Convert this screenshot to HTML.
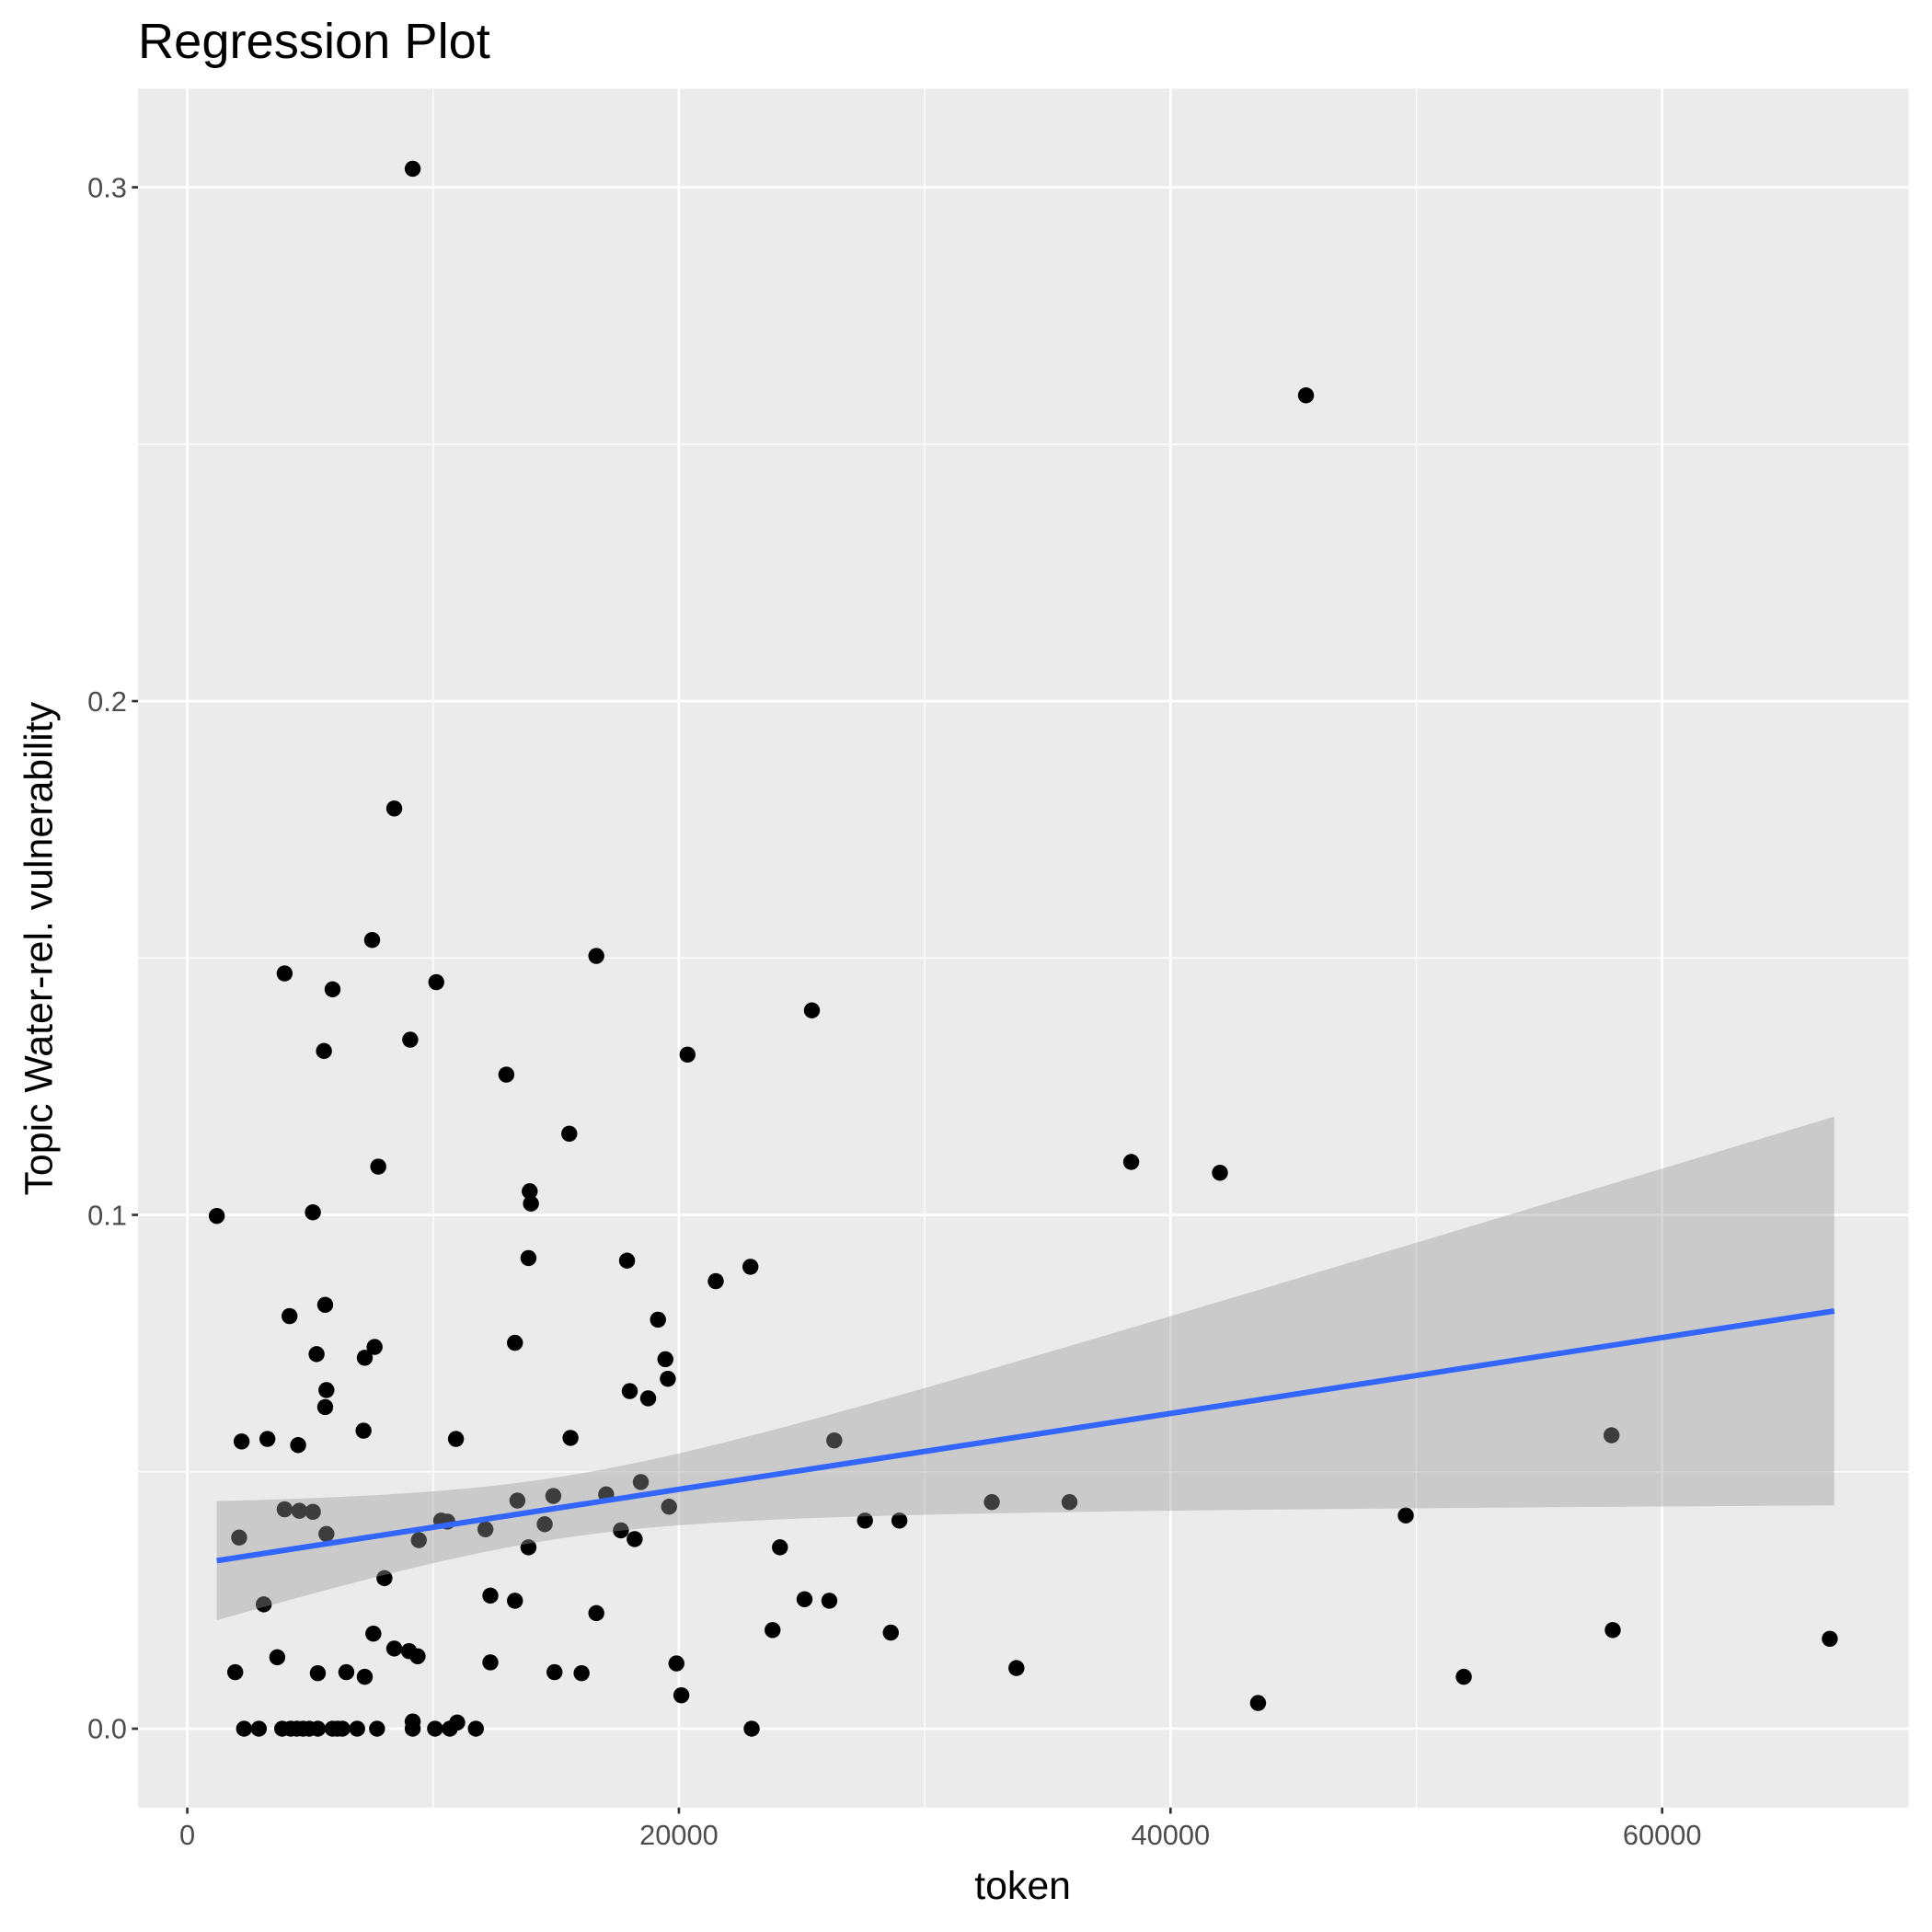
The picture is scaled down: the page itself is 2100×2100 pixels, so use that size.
<!DOCTYPE html>
<html><head><meta charset="utf-8"><style>
html,body{margin:0;padding:0;background:#fff}
svg{display:block}
text{font-family:"Liberation Sans",Arial,sans-serif}
</style></head><body>
<svg id="chart" width="2100" height="2100" viewBox="0 0 1568 1568" xmlns="http://www.w3.org/2000/svg">
<rect width="1568" height="1568" fill="#fff"/>
<text x="112" y="47" font-size="40.5" fill="#000">Regression Plot</text>
<rect x="112" y="72" width="1437" height="1395" fill="#ebebeb"/>
<g id="grid"></g>
<g id="points"></g>
<g id="band"></g>
<g id="axes"></g>
<text x="830" y="1541" font-size="32" text-anchor="middle" fill="#000">token</text>
<text transform="translate(42,770) rotate(-90)" font-size="32" text-anchor="middle" fill="#000">Topic Water-rel. vulnerability</text>
</svg>
<script>
const xs = [9170,45510,8420,7520,16640,3960,10130,5910,25410,9070,5560,20350,12980,15540,7770,38400,42010,13930,13980,1200,5110,13880,17890,22910,21500,5610,4160,19150,13330,7620,7220,5260,19450,19550,5660,18000,18750,5610,7170,2210,3260,4510,10930,15590,26320,57940,18450,14890,13430,17040,32730,35890,3960,4560,5110,19600,49570,10330,10580,14540,27570,28970,12130,17640,2110,5660,9420,18200,13880,24110,8020,3110,12330,13330,25110,26120,16640,23810,28620,7570,57990,66820,8420,9020,9370,3660,12330,19900,33730,1950,5310,6470,14940,16040,7220,51930,20100,43560,9170,10980,2310,2910,3860,4210,4460,4710,4960,5310,5910,6110,6310,6910,7720,9170,10080,10680,11740,22960];
const ys = [0.3036,0.2595,0.1791,0.1535,0.1504,0.1470,0.1453,0.1439,0.1398,0.1341,0.1319,0.1312,0.1273,0.1158,0.1094,0.1103,0.1082,0.1046,0.1022,0.0998,0.1005,0.0916,0.0911,0.0899,0.0871,0.0825,0.0803,0.0796,0.0751,0.0743,0.0722,0.0729,0.0719,0.0681,0.0659,0.0657,0.0643,0.0626,0.0580,0.0559,0.0564,0.0552,0.0564,0.0566,0.0561,0.0571,0.0480,0.0453,0.0444,0.0456,0.0441,0.0441,0.0427,0.0424,0.0422,0.0432,0.0415,0.0405,0.0403,0.0398,0.0405,0.0405,0.0388,0.0386,0.0372,0.0379,0.0367,0.0369,0.0353,0.0353,0.0293,0.0242,0.0259,0.0249,0.0252,0.0249,0.0225,0.0192,0.0187,0.0185,0.0192,0.0175,0.0156,0.0151,0.0141,0.0139,0.0129,0.0127,0.0118,0.0110,0.0108,0.0110,0.0110,0.0108,0.0101,0.0101,0.0065,0.0050,0.0014,0.0012,0,0,0,0,0,0,0,0,0,0,0,0,0,0,0,0,0,0];
const fitX = [1200,67000];
const fitY = [0.0327,0.0813];
const bandCenter = [15000];
const bandMin = [0.006];
const bandSlope = [5.16e-13];
const xTicks = [0,20000,40000,60000];
const xTickLabels = ["0","20000","40000","60000"];
const xMinor = [10000,30000,50000];
const yTicks = [0,0.1,0.2,0.3];
const yTickLabels = ["0.0","0.1","0.2","0.3"];
const yMinor = [0.05,0.15,0.25];

const NS="http://www.w3.org/2000/svg";
const X = v => 152 + v*0.019950;
const Y = v => 1403 - v*4170;
function mk(tag, attrs, parent){const e=document.createElementNS(NS,tag);for(const k in attrs)e.setAttribute(k,attrs[k]);parent.appendChild(e);return e;}
const grid=document.getElementById('grid'), pts=document.getElementById('points'), band=document.getElementById('band'), axes=document.getElementById('axes');
xMinor.forEach(v=>{const l=mk('line',{x1:X(v),x2:X(v),y1:72,y2:1467,stroke:'#fff','stroke-width':1},grid);

});
yMinor.forEach(v=>{const l=mk('line',{x1:112,x2:1549,y1:Y(v),y2:Y(v),stroke:'#fff','stroke-width':1},grid);

});
xTicks.forEach((v,i)=>{const l=mk('line',{x1:X(v),x2:X(v),y1:72,y2:1467,stroke:'#fff','stroke-width':2},grid);


const t=mk('line',{x1:X(v),x2:X(v),y1:1467,y2:1472,stroke:'#333','stroke-width':2},axes);


const tx=mk('text',{x:X(v),y:1497,'font-size':23,'text-anchor':'middle',fill:'#4d4d4d'},axes);tx.textContent=xTickLabels[i];

});
yTicks.forEach((v,i)=>{const l=mk('line',{x1:112,x2:1549,y1:Y(v),y2:Y(v),stroke:'#fff','stroke-width':2},grid);


const t=mk('line',{x1:107,x2:112,y1:Y(v),y2:Y(v),stroke:'#333','stroke-width':2},axes);


const tx=mk('text',{x:103,y:Y(v)+8,'font-size':23,'text-anchor':'end',fill:'#4d4d4d'},axes);tx.textContent=yTickLabels[i];

});
xs.forEach((x,i)=>{const c=mk('circle',{cx:X(x),cy:Y(ys[i]),r:6.5,fill:'#000'},pts);

});
const slope=(fitY[1]-fitY[0])/(fitX[1]-fitX[0]);
const fit=x=>fitY[0]+slope*(x-fitX[0]);
const hw=x=>Math.sqrt(bandMin[0]*bandMin[0]+bandSlope[0]*(x-bandCenter[0])*(x-bandCenter[0]));
let up=[],lo=[];
for(let k=0;k<=80;k++){const x=fitX[0]+(fitX[1]-fitX[0])*k/80;up.push(X(x)+','+Y(fit(x)+hw(x)));lo.unshift(X(x)+','+Y(fit(x)-hw(x)));}
const poly=mk('polygon',{points:up.concat(lo).join(' '),fill:'#999999','fill-opacity':0.4},band);


const ln=mk('line',{x1:X(fitX[0]),y1:Y(fitY[0]),x2:X(fitX[1]),y2:Y(fitY[1]),stroke:'#3366FF','stroke-width':4.5},band);


</script>
</body></html>
